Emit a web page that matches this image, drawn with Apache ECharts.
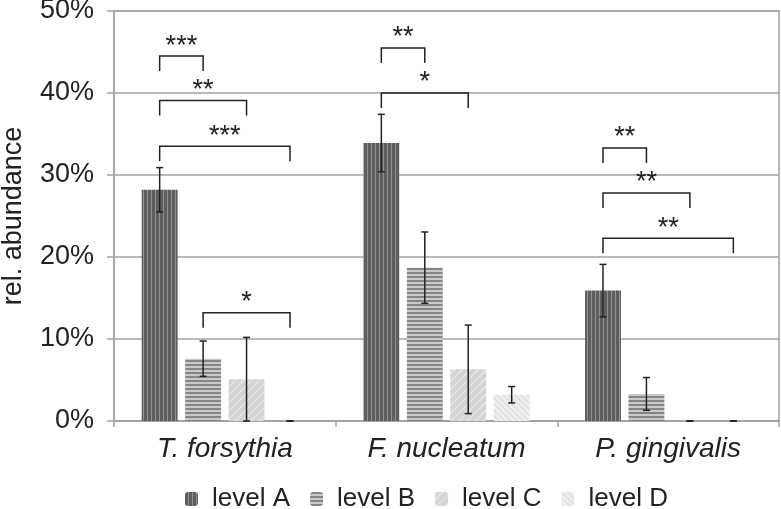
<!DOCTYPE html>
<html>
<head>
<meta charset="utf-8">
<script src="https://cdn.jsdelivr.net/npm/echarts@6/dist/echarts.min.js"></script>
<style>html,body{margin:0;padding:0;background:#fff;}#c{width:781px;height:509px;}</style>
</head>
<body>
<div id="c"></div>
<script>
// ---- data ----
const categories = ['T. forsythia', 'F. nucleatum', 'P. gingivalis'];
const seriesNames = ['level A', 'level B', 'level C', 'level D'];
const levelA = [28.2, 33.9, 15.9];
const levelB = [7.6, 18.7, 3.3];
const levelC = [5.1, 6.3, 0];
const levelD = [0, 3.2, 0];
const errA = [2.7, 3.5, 3.2];
const errB = [2.15, 4.35, 2.0];
const errC = [5.1, 5.4, 0];
const errD = [0, 1.0, 0];
const yTicks = [0, 10, 20, 30, 40, 50];
// significance brackets
const bracketCat = [0, 0, 0, 0, 1, 1, 2, 2, 2];
const bracketFrom = [0, 0, 0, 1, 0, 0, 0, 0, 0];
const bracketTo = [1, 2, 3, 3, 1, 2, 1, 2, 3];
const bracketLevel = [44.5, 39.1, 33.5, 13.2, 45.5, 40.0, 33.3, 27.8, 22.3];
const bracketLabel = ['***', '**', '***', '*', '**', '*', '**', '**', '**'];

// ---- style ----
const FONT = 'Liberation Sans, Arial, Helvetica, sans-serif';
const GRIDC = '#a3a3a3';
const CAT_GAP = 0.25, BAR_GAP = 0.21;

function pattern(w, h, draw) {
  const c = document.createElement('canvas');
  c.width = w; c.height = h;
  const ctx = c.getContext('2d');
  draw(ctx, w, h);
  return { image: c, repeat: 'repeat' };
}
const patA = pattern(4, 4, (ctx) => {
  ctx.fillStyle = '#919191'; ctx.fillRect(0, 0, 4, 4);
  ctx.fillStyle = '#5e5e5e'; ctx.fillRect(0, 0, 3, 4);
});
const patB = pattern(4, 4, (ctx) => {
  ctx.fillStyle = '#c9c9c9'; ctx.fillRect(0, 0, 4, 4);
  ctx.fillStyle = '#858585'; ctx.fillRect(0, 0, 4, 2);
});
const patC = pattern(8, 8, (ctx) => {
  ctx.fillStyle = '#d4d4d4'; ctx.fillRect(0, 0, 8, 8);
  ctx.strokeStyle = '#e6e6e6'; ctx.lineWidth = 1.5;
  ctx.beginPath();
  ctx.moveTo(-1, 9); ctx.lineTo(9, -1);
  ctx.moveTo(-1, 1); ctx.lineTo(1, -1);
  ctx.moveTo(7, 9); ctx.lineTo(9, 7);
  ctx.stroke();
});
const patD = pattern(6, 6, (ctx) => {
  ctx.fillStyle = '#efefef'; ctx.fillRect(0, 0, 6, 6);
  ctx.strokeStyle = '#d9d9d9'; ctx.lineWidth = 1.2;
  ctx.beginPath();
  ctx.moveTo(-1, -1); ctx.lineTo(7, 7);
  ctx.moveTo(5, -1); ctx.lineTo(7, 1);
  ctx.moveTo(-1, 5); ctx.lineTo(1, 7);
  ctx.stroke();
});
const patterns = [patA, patB, patC, patD];
const values = [levelA, levelB, levelC, levelD];
const errs = [errA, errB, errC, errD];

function barOffset(band, idx) {
  const n = seriesNames.length;
  const group = band * (1 - CAT_GAP);
  const bw = group / (n + (n - 1) * BAR_GAP);
  return -group / 2 + bw / 2 + idx * bw * (1 + BAR_GAP);
}

const errData = [];
values.forEach((arr, s) => arr.forEach((v, i) => errData.push([i, s, v, errs[s][i]])));
const bracketData = bracketCat.map((c, k) => [c, bracketFrom[k], bracketTo[k], bracketLevel[k], bracketLabel[k]]);

const chart = echarts.init(document.getElementById('c'));
const barSeries = seriesNames.map((name, s) => ({
  name, type: 'bar', data: values[s],
  barGap: (BAR_GAP * 100) + '%', barCategoryGap: (CAT_GAP * 100) + '%',
  itemStyle: { color: patterns[s] }
}));

chart.setOption({
  animation: false,
  grid: { left: 114, right: 2, top: 11, bottom: 88, show: true, borderColor: GRIDC, borderWidth: 1.5,
          containLabel: false, outerBoundsMode: 'none' },
  xAxis: {
    type: 'category', data: categories,
    axisLine: { lineStyle: { color: GRIDC, width: 1.5 } },
    axisTick: { show: true, length: 6, lineStyle: { color: GRIDC, width: 1.5 } },
    axisLabel: { fontFamily: FONT, fontSize: 28, fontStyle: 'italic', color: '#222', margin: 14 }
  },
  yAxis: {
    type: 'value', min: yTicks[0], max: yTicks[yTicks.length - 1], interval: yTicks[1] - yTicks[0],
    name: 'rel. abundance', nameLocation: 'middle', nameGap: 87,
    nameTextStyle: { fontFamily: FONT, fontSize: 27, color: '#222' },
    axisLine: { show: true, lineStyle: { color: GRIDC, width: 1.5 } },
    axisTick: { show: true, length: 7, lineStyle: { color: GRIDC, width: 1.5 } },
    axisLabel: { fontFamily: FONT, fontSize: 27, color: '#222', margin: 20, formatter: '{value}%' },
    splitLine: { lineStyle: { color: GRIDC, width: 1.5 } }
  },
  legend: {
    data: seriesNames, top: 481, left: 180, itemWidth: 13, itemHeight: 14, itemGap: 20,
    textStyle: { fontFamily: FONT, fontSize: 26, color: '#222', padding: [0, 0, 0, 9] }
  },
  series: barSeries.concat([
    {
      type: 'custom', z: 5, silent: true, data: errData,
      encode: { x: 0, y: 2 },
      renderItem: (params, api) => {
        const cat = api.value(0), s = api.value(1), v = api.value(2), e = api.value(3);
        const band = api.size([1, 0])[0];
        const x = api.coord([cat, v])[0] + barOffset(band, s);
        const yt = api.coord([cat, v + e])[1];
        const yb = api.coord([cat, Math.max(0, v - e)])[1];
        const st = { stroke: '#222', lineWidth: 1.5 };
        return { type: 'group', children: [
          { type: 'line', shape: { x1: x, y1: yt, x2: x, y2: yb }, style: st },
          { type: 'line', shape: { x1: x - 3.5, y1: yt, x2: x + 3.5, y2: yt }, style: st },
          { type: 'line', shape: { x1: x - 3.5, y1: yb, x2: x + 3.5, y2: yb }, style: st }
        ] };
      }
    },
    {
      type: 'custom', z: 5, silent: true, data: bracketData,
      encode: { x: 0, y: 3 },
      renderItem: (params, api) => {
        const cat = api.value(0), f = api.value(1), t = api.value(2), lv = api.value(3);
        const label = bracketData[params.dataIndex][4];
        const band = api.size([1, 0])[0];
        const p = api.coord([cat, lv]);
        const x1 = p[0] + barOffset(band, f), x2 = p[0] + barOffset(band, t);
        const y = p[1], leg = 15;
        const st = { stroke: '#222', lineWidth: 1.5, fill: null };
        return { type: 'group', children: [
          { type: 'polyline', shape: { points: [[x1, y + leg], [x1, y], [x2, y], [x2, y + leg]] }, style: st },
          { type: 'text', style: { text: label, x: (x1 + x2) / 2, y: y - 10, textAlign: 'center', textVerticalAlign: 'middle',
            fontSize: 27, fontFamily: FONT, fill: '#222' } }
        ] };
      }
    }
  ])
});
</script>
</body>
</html>
